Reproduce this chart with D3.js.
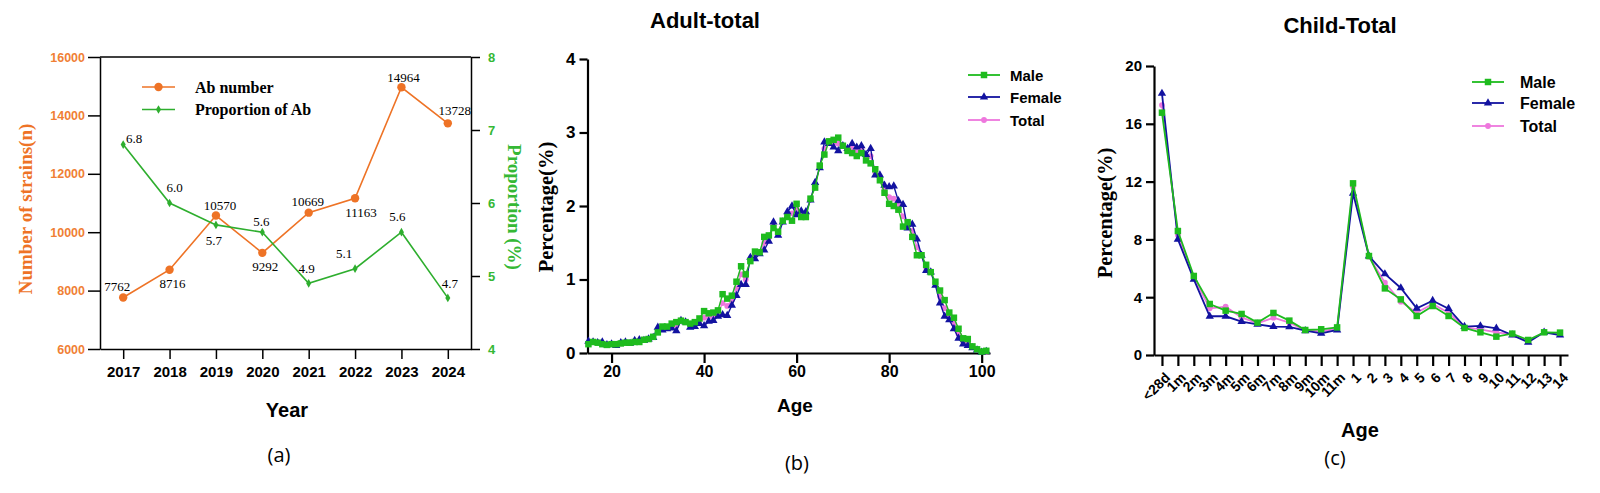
<!DOCTYPE html>
<html><head><meta charset="utf-8">
<script src="https://cdn.jsdelivr.net/npm/d3@7"></script>
<style>body{margin:0;background:#fff}svg{display:block}</style>
</head><body>
<svg id="chart" width="1600" height="493"></svg>
<script>
// ---------- Panel (a) data ----------
const years = [2017, 2018, 2019, 2020, 2021, 2022, 2023, 2024];
const abNumber = [7762, 8716, 10570, 9292, 10669, 11163, 14964, 13728];
const abProportion = [6.8, 6.0, 5.7, 5.6, 4.9, 5.1, 5.6, 4.7];
const leftTicksA = [6000, 8000, 10000, 12000, 14000, 16000];
const rightTicksA = [4, 5, 6, 7, 8];

// ---------- Panel (b) data ----------
const adultAges = d3.range(15, 102);
const adultMale = [0.12,0.15,0.14,0.12,0.11,0.12,0.12,0.13,0.14,0.14,0.15,0.15,0.18,0.19,0.22,0.28,0.36,0.36,0.40,0.42,0.44,0.42,0.40,0.42,0.47,0.57,0.54,0.55,0.58,0.80,0.74,0.78,0.97,1.18,1.07,1.25,1.38,1.37,1.58,1.60,1.70,1.65,1.80,1.85,1.80,2.03,1.85,1.85,2.10,2.25,2.55,2.70,2.88,2.90,2.93,2.82,2.75,2.72,2.68,2.72,2.62,2.58,2.50,2.35,2.18,2.03,2.00,1.95,1.72,1.78,1.58,1.33,1.33,1.20,1.10,0.97,0.85,0.72,0.55,0.48,0.33,0.20,0.19,0.09,0.05,0.02,0.03];
const adultFemale = [0.16,0.15,0.14,0.15,0.11,0.12,0.10,0.14,0.15,0.13,0.17,0.18,0.17,0.19,0.21,0.35,0.31,0.33,0.34,0.30,0.44,0.42,0.35,0.36,0.40,0.37,0.43,0.44,0.50,0.52,0.51,0.65,0.78,0.93,0.93,1.30,1.28,1.35,1.40,1.52,1.78,1.60,1.78,1.92,2.00,1.88,1.93,1.92,2.08,2.32,2.52,2.87,2.85,2.80,2.75,2.82,2.78,2.85,2.80,2.82,2.70,2.78,2.42,2.42,2.28,2.26,2.27,2.07,2.02,1.70,1.75,1.55,1.33,1.12,1.10,0.92,0.68,0.50,0.45,0.33,0.20,0.12,0.10,0.07,0.04,0.01,0.02];
const adultTotal = [0.14,0.15,0.14,0.13,0.11,0.12,0.11,0.13,0.14,0.14,0.16,0.16,0.18,0.19,0.22,0.31,0.34,0.35,0.38,0.37,0.44,0.42,0.38,0.40,0.44,0.48,0.49,0.50,0.54,0.68,0.64,0.72,0.88,1.07,1.00,1.27,1.33,1.36,1.50,1.57,1.74,1.63,1.79,1.88,1.90,1.96,1.89,1.88,2.09,2.28,2.54,2.78,2.86,2.86,2.85,2.82,2.76,2.78,2.74,2.77,2.66,2.68,2.46,2.38,2.23,2.12,2.10,2.00,1.86,1.74,1.66,1.44,1.33,1.16,1.10,0.95,0.77,0.61,0.50,0.40,0.26,0.16,0.14,0.08,0.04,0.02,0.02];
const adultXTicks = [20, 40, 60, 80, 100];
const adultYTicks = [0, 1, 2, 3, 4];

// ---------- Panel (c) data ----------
const childAges = ["<28d","1m","2m","3m","4m","5m","6m","7m","8m","9m","10m","11m","1","2","3","4","5","6","7","8","9","10","11","12","13","14"];
const childMale = [16.77,8.58,5.47,3.53,3.07,2.84,2.24,2.91,2.38,1.73,1.78,1.91,11.88,6.85,4.61,3.85,2.70,3.39,2.70,1.87,1.57,1.27,1.48,1.04,1.57,1.55];
const childFemale = [18.1,8.0,5.24,2.68,2.68,2.31,2.12,1.96,1.94,1.68,1.50,1.73,11.19,6.85,5.61,4.64,3.23,3.76,3.21,1.96,2.01,1.85,1.38,0.88,1.57,1.38];
const childTotal = [17.3,8.3,5.37,3.23,3.34,2.60,2.19,2.58,2.24,1.71,1.64,1.82,11.65,6.80,5.00,3.69,2.93,3.53,2.93,1.91,1.78,1.57,1.43,0.97,1.57,1.50];
const childYTicks = [0, 4, 8, 12, 16, 20];

const seriesNames = ["Male", "Female", "Total"];

// ---------- styles ----------
const SANS = "'Liberation Sans', Arial, sans-serif";
const SERIF = "'Liberation Serif', 'Times New Roman', serif";
const ORANGE = "#EE7326", GREENA = "#2EAE2E";
const GREEN = "#1EBB1E", BLUE = "#1212A0", PINK = "#EE77DD";
const intFmt = d3.format("d");

const svg = d3.select("#chart");

function styleAxis(g, opt) {
  g.select(".domain").attr("stroke", "#000").attr("stroke-width", opt.w);
  g.selectAll(".tick line").attr("stroke", "#000").attr("stroke-width", opt.w);
  g.selectAll(".tick text").attr("font-family", SANS).attr("font-weight", "bold")
    .attr("font-size", opt.fs).attr("fill", opt.color || "#000");
}

// ================= Panel (a) =================
(function () {
  const x = d3.scalePoint().domain(years).range([100, 471]).padding(0.5);
  const yL = d3.scaleLinear().domain([6000, 16000]).range([349, 57]);
  const yR = d3.scaleLinear().domain([4, 8]).range([349, 57]);
  const g = svg.append("g");

  g.append("line").attr("x1", 100).attr("x2", 471).attr("y1", 57).attr("y2", 57)
    .attr("stroke", "#000").attr("stroke-width", 1.5);

  const gl = g.append("g").attr("transform", "translate(100,0)")
    .call(d3.axisLeft(yL).tickValues(leftTicksA).tickSize(12).tickPadding(3).tickSizeOuter(0).tickFormat(intFmt));
  styleAxis(gl, { w: 1.5, fs: 12.5, color: "#F07F35" });

  const gr = g.append("g").attr("transform", "translate(471,0)")
    .call(d3.axisRight(yR).tickValues(rightTicksA).tickSize(9).tickPadding(8).tickSizeOuter(0).tickFormat(intFmt));
  styleAxis(gr, { w: 1.5, fs: 13, color: "#35B835" });

  const gb = g.append("g").attr("transform", "translate(0,349)")
    .call(d3.axisBottom(x).tickSize(10).tickPadding(7).tickSizeOuter(0));
  styleAxis(gb, { w: 1.5, fs: 15 });

  // lines
  const lineL = d3.line().x((d, i) => x(years[i])).y(d => yL(d));
  const lineR = d3.line().x((d, i) => x(years[i])).y(d => yR(d));
  g.append("path").datum(abNumber).attr("d", lineL).attr("fill", "none").attr("stroke", ORANGE).attr("stroke-width", 1.6);
  g.append("path").datum(abProportion).attr("d", lineR).attr("fill", "none").attr("stroke", GREENA).attr("stroke-width", 1.6);
  g.selectAll(".ptL").data(abNumber).enter().append("circle")
    .attr("cx", (d, i) => x(years[i])).attr("cy", d => yL(d)).attr("r", 4.2).attr("fill", ORANGE);
  const diamond = d3.symbol().type(d3.symbolDiamond).size(22);
  g.selectAll(".ptR").data(abProportion).enter().append("path")
    .attr("d", diamond).attr("transform", (d, i) => `translate(${x(years[i])},${yR(d)})`).attr("fill", GREENA);

  // value labels (offsets are layout, not data)
  const offL = [[-6, -11], [3, 14], [4, -10], [3, 14], [-1, -11], [6, 14], [2, -10], [7, -13]];
  const offR = [[11, -6], [5, -16], [-2, 16], [-1, -11], [-2, -15], [-11, -15], [-4, -16], [2, -14]];
  g.selectAll(".lblL").data(abNumber).enter().append("text")
    .attr("x", (d, i) => x(years[i]) + offL[i][0]).attr("y", (d, i) => yL(d) + offL[i][1])
    .attr("text-anchor", "middle").attr("dominant-baseline", "central")
    .attr("font-family", SERIF).attr("font-size", 13).text(d => d);
  g.selectAll(".lblR").data(abProportion).enter().append("text")
    .attr("x", (d, i) => x(years[i]) + offR[i][0]).attr("y", (d, i) => yR(d) + offR[i][1])
    .attr("text-anchor", "middle").attr("dominant-baseline", "central")
    .attr("font-family", SERIF).attr("font-size", 13).text(d => d3.format(".1f")(d));

  // legend
  const leg = [["Ab number", ORANGE, 87, "c"], ["Proportion of Ab", GREENA, 109.5, "d"]];
  leg.forEach(l => {
    g.append("line").attr("x1", 142).attr("x2", 175).attr("y1", l[2]).attr("y2", l[2]).attr("stroke", l[1]).attr("stroke-width", 1.6);
    if (l[3] === "c") g.append("circle").attr("cx", 158.5).attr("cy", l[2]).attr("r", 4.2).attr("fill", l[1]);
    else g.append("path").attr("d", diamond).attr("transform", `translate(158.5,${l[2]})`).attr("fill", l[1]);
    g.append("text").attr("x", 195).attr("y", l[2]).attr("dominant-baseline", "central")
      .attr("font-family", SERIF).attr("font-weight", "bold").attr("font-size", 16).text(l[0]);
  });

  g.append("text").attr("transform", "translate(25,209) rotate(-90)").attr("text-anchor", "middle")
    .attr("dominant-baseline", "central").attr("font-family", SERIF).attr("font-weight", "bold")
    .attr("font-size", 19).attr("fill", ORANGE).text("Number of strains(n)");
  g.append("text").attr("transform", "translate(514,207) rotate(90)").attr("text-anchor", "middle")
    .attr("dominant-baseline", "central").attr("font-family", SERIF).attr("font-weight", "bold")
    .attr("font-size", 19).attr("fill", "#35B835").text("Proportion (%)");
  g.append("text").attr("x", 287).attr("y", 417).attr("text-anchor", "middle")
    .attr("font-family", SANS).attr("font-weight", "bold").attr("font-size", 20).text("Year");
  g.append("text").attr("x", 279).attr("y", 462).attr("text-anchor", "middle")
    .attr("font-family", "'Open Sans', sans-serif").attr("font-size", 20).text("(a)");
})();

// ---------- shared legend / series drawing ----------
const sq = d3.symbol().type(d3.symbolSquare).size(42);
const tri = d3.symbol().type(d3.symbolTriangle).size(30);
const cir = d3.symbol().type(d3.symbolCircle).size(26);

function drawSeries(g, xs, ys, vals, color, sym, lw) {
  const line = d3.line().x((d, i) => xs[i]).y(d => ys(d));
  g.append("path").datum(vals).attr("d", line).attr("fill", "none").attr("stroke", color).attr("stroke-width", lw);
  g.selectAll(null).data(vals).enter().append("path").attr("d", sym)
    .attr("transform", (d, i) => `translate(${xs[i]},${ys(d)})`).attr("fill", color);
}
function drawLegend(g, x0, x1, tx, ys, fs) {
  const items = [[seriesNames[0], GREEN, sq], [seriesNames[1], BLUE, tri], [seriesNames[2], PINK, cir]];
  items.forEach((it, i) => {
    g.append("line").attr("x1", x0).attr("x2", x1).attr("y1", ys[i]).attr("y2", ys[i]).attr("stroke", it[1]).attr("stroke-width", 1.8);
    g.append("path").attr("d", it[2]).attr("transform", `translate(${(x0 + x1) / 2},${ys[i]})`).attr("fill", it[1]);
    g.append("text").attr("x", tx).attr("y", ys[i]).attr("dominant-baseline", "central")
      .attr("font-family", SANS).attr("font-weight", "bold").attr("font-size", fs).text(it[0]);
  });
}

// ================= Panel (b) =================
(function () {
  const x = d3.scaleLinear().domain([14.8, 101.8]).range([587.5, 990]);
  const y = d3.scaleLinear().domain([0, 4]).range([353, 59]);
  const g = svg.append("g");
  const gl = g.append("g").attr("transform", "translate(587.5,0)")
    .call(d3.axisLeft(y).tickValues(adultYTicks).tickSize(8).tickPadding(4).tickSizeOuter(0).tickFormat(intFmt));
  styleAxis(gl, { w: 2.2, fs: 17 });
  const gb = g.append("g").attr("transform", "translate(0,353)")
    .call(d3.axisBottom(x).tickValues(adultXTicks).tickSize(10).tickPadding(3).tickSizeOuter(0).tickFormat(intFmt));
  styleAxis(gb, { w: 2.2, fs: 16 });

  const xs = adultAges.map(a => x(a));
  drawSeries(g, xs, y, adultTotal, PINK, cir, 1.4);
  drawSeries(g, xs, y, adultFemale, BLUE, tri, 1.4);
  drawSeries(g, xs, y, adultMale, GREEN, sq, 1.4);

  drawLegend(g, 968, 1000, 1010, [75, 97, 120], 15);

  g.append("text").attr("x", 705).attr("y", 28).attr("text-anchor", "middle")
    .attr("font-family", SANS).attr("font-weight", "bold").attr("font-size", 22).text("Adult-total");
  g.append("text").attr("transform", "translate(546,207) rotate(-90)").attr("text-anchor", "middle")
    .attr("dominant-baseline", "central").attr("font-family", SERIF).attr("font-weight", "bold")
    .attr("font-size", 20.5).text("Percentage(%)");
  g.append("text").attr("x", 795).attr("y", 412).attr("text-anchor", "middle")
    .attr("font-family", SANS).attr("font-weight", "bold").attr("font-size", 19).text("Age");
  g.append("text").attr("x", 797).attr("y", 470).attr("text-anchor", "middle")
    .attr("font-family", "'Open Sans', sans-serif").attr("font-size", 20).text("(b)");
})();

// ================= Panel (c) =================
(function () {
  const x = d3.scalePoint().domain(childAges).range([1154, 1568]).padding(0.5);
  const y = d3.scaleLinear().domain([0, 20]).range([355, 66]);
  const g = svg.append("g");
  const gl = g.append("g").attr("transform", "translate(1154,0)")
    .call(d3.axisLeft(y).tickValues(childYTicks).tickSize(8).tickPadding(4).tickSizeOuter(0).tickFormat(intFmt));
  styleAxis(gl, { w: 2.2, fs: 15 });
  const gb = g.append("g").attr("transform", "translate(0,355)")
    .call(d3.axisBottom(x).tickSize(11).tickSizeOuter(0));
  styleAxis(gb, { w: 2.2, fs: 14 });
  gb.selectAll(".tick text").attr("text-anchor", "end").attr("dy", null).attr("y", null)
    .attr("dominant-baseline", "central")
    .attr("transform", "translate(5,20) rotate(-45)");

  const xs = childAges.map(a => x(a));
  drawSeries(g, xs, y, childTotal, PINK, cir, 1.8);
  drawSeries(g, xs, y, childFemale, BLUE, tri, 1.8);
  drawSeries(g, xs, y, childMale, GREEN, sq, 1.8);

  drawLegend(g, 1472, 1504, 1520, [82, 103, 126], 16);

  g.append("text").attr("x", 1340).attr("y", 33).attr("text-anchor", "middle")
    .attr("font-family", SANS).attr("font-weight", "bold").attr("font-size", 22).text("Child-Total");
  g.append("text").attr("transform", "translate(1105,213) rotate(-90)").attr("text-anchor", "middle")
    .attr("dominant-baseline", "central").attr("font-family", SERIF).attr("font-weight", "bold")
    .attr("font-size", 20.5).text("Percentage(%)");
  g.append("text").attr("x", 1360).attr("y", 437).attr("text-anchor", "middle")
    .attr("font-family", SANS).attr("font-weight", "bold").attr("font-size", 20).text("Age");
  g.append("text").attr("x", 1335).attr("y", 465).attr("text-anchor", "middle")
    .attr("font-family", "'Open Sans', sans-serif").attr("font-size", 20).text("(c)");
})();
</script>
</body></html>
